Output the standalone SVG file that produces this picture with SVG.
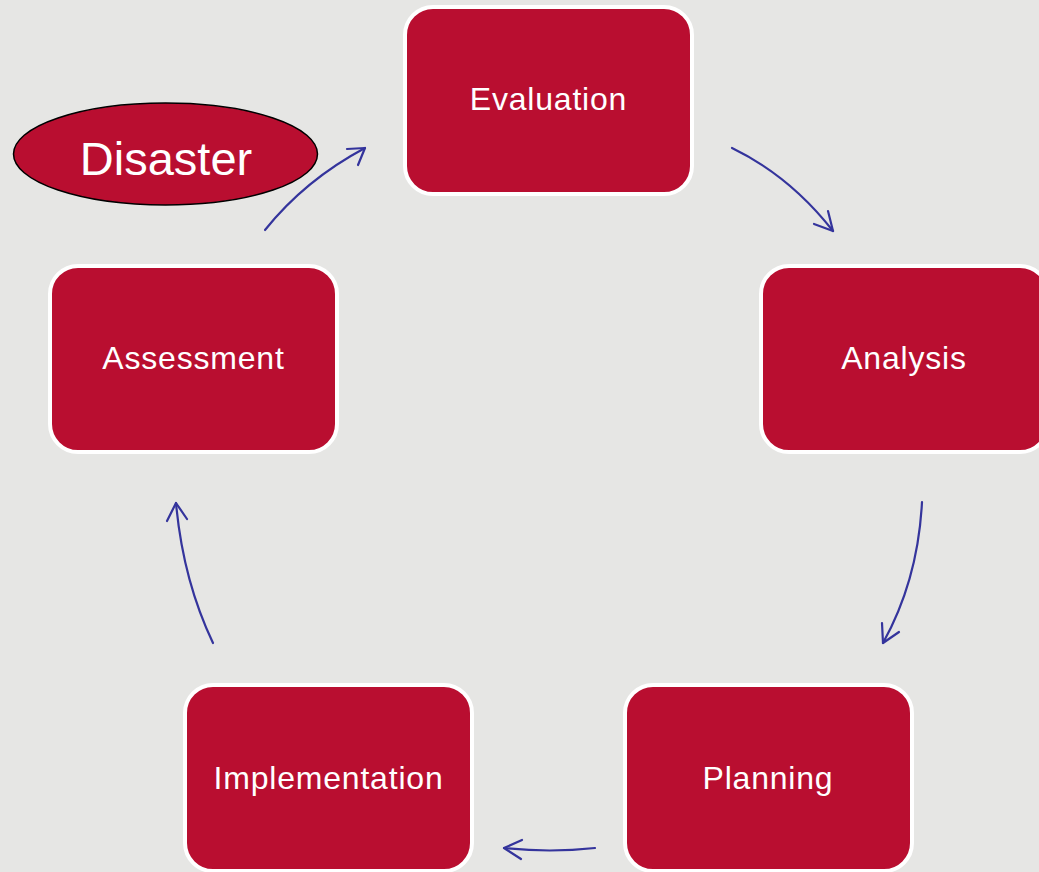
<svg xmlns="http://www.w3.org/2000/svg" width="1039" height="872" viewBox="0 0 1039 872">
<style>
.box{fill:#b90e30;stroke:#ffffff;stroke-width:4}
.lbl{fill:#ffffff;font-family:"Liberation Sans",Arial,sans-serif;font-size:32px;letter-spacing:0.8px;text-anchor:middle}
.conn{fill:none;stroke:#34349c;stroke-width:2.2;stroke-linecap:round;stroke-linejoin:round}
</style>
<rect width="1039" height="872" fill="#e6e6e4"/>
<g id="connectors">
<path class="conn" d="M265,230 Q305,180 365,148"/>
<path class="conn" d="M347,149 L365,148 L358,165"/>
<path class="conn" d="M732,148 Q790,176 833,231"/>
<path class="conn" d="M814,224 L833,231 L828,211"/>
<path class="conn" d="M922,502 Q918,580 883,643"/>
<path class="conn" d="M882,623 L883,643 L899,632"/>
<path class="conn" d="M595,848 Q550,853 504,848"/>
<path class="conn" d="M522,840 L504,848 L521,859"/>
<path class="conn" d="M213,643 Q183,580 176,503"/>
<path class="conn" d="M167,521 L176,503 L187,519"/>
</g>
<g id="evaluation">
<rect class="box" x="405" y="7" width="287" height="187" rx="28"/>
<text class="lbl" x="548.5" y="110">Evaluation</text>
</g>
<g id="analysis">
<rect class="box" x="761" y="266" width="287" height="186" rx="28"/>
<text class="lbl" x="904" y="369">Analysis</text>
</g>
<g id="planning">
<rect class="box" x="625" y="685" width="287" height="186" rx="28"/>
<text class="lbl" x="768" y="789">Planning</text>
</g>
<g id="implementation">
<rect class="box" x="185" y="685" width="287" height="186" rx="28"/>
<text class="lbl" x="328.5" y="789">Implementation</text>
</g>
<g id="assessment">
<rect class="box" x="50" y="266" width="287" height="186" rx="28"/>
<text class="lbl" x="193.5" y="369">Assessment</text>
</g>
<g id="disaster">
<ellipse cx="165.5" cy="154" rx="152" ry="51" fill="#b90e30" stroke="#000000" stroke-width="1.5"/>
<text x="166" y="175" fill="#ffffff" font-family="'Liberation Sans',Arial,sans-serif" font-size="47" text-anchor="middle">Disaster</text>
</g>
</svg>
